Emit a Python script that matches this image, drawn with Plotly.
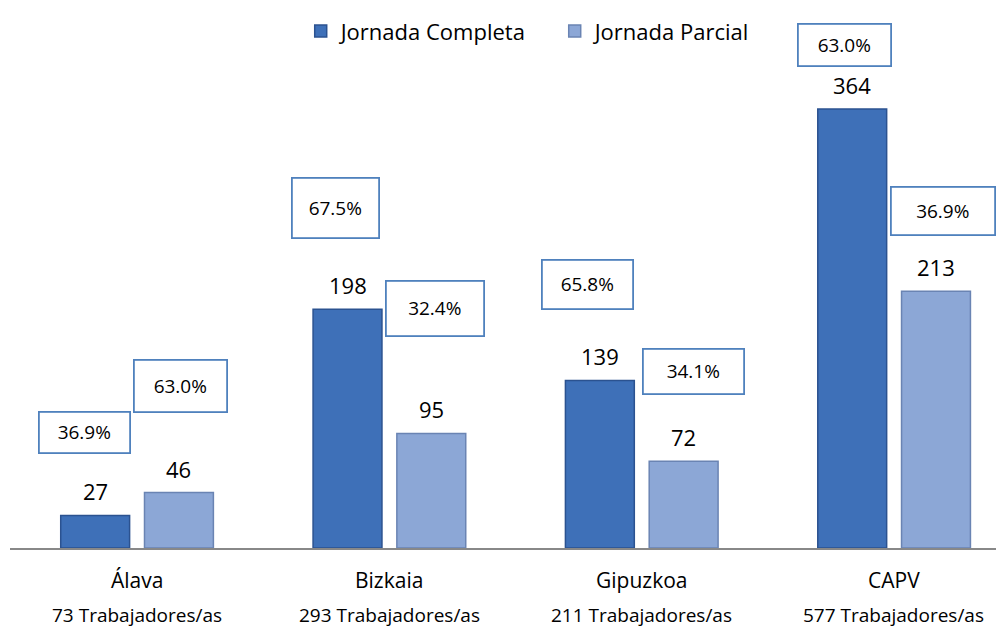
import plotly.graph_objects as go

categories = ["Álava", "Bizkaia", "Gipuzkoa", "CAPV"]
totals = [73, 293, 211, 577]
completa = [27, 198, 139, 364]
parcial = [46, 95, 72, 213]
pct_completa = ["36.9%", "67.5%", "65.8%", "63.0%"]
pct_parcial = ["63.0%", "32.4%", "34.1%", "36.9%"]

# label box placement (pixel offsets from bar top centre) and sizes
box_completa = [(-11, 83, 92, 42), (-12, 101, 88, 61), (-12, 96, 92, 50), (-8, 64, 94, 43)]
box_parcial = [(2, 107, 94, 53), (4, 125, 99, 56), (10, 90, 102, 46), (7, 80, 105, 49)]

FONT = "Open Sans"
C_FULL = "#3E70B8"
C_FULL_LINE = "#2B5290"
C_PART = "#8CA7D6"
C_PART_LINE = "#6A84B3"
BOX_LINE = "#4F81BD"

xs = list(range(len(categories)))
BW = 0.273
OFF_C = -0.302
OFF_P = 0.030

fig = go.Figure()
fig.add_trace(go.Bar(
    x=xs, y=completa, name="Jornada Completa",
    width=BW, offset=OFF_C,
    marker=dict(color=C_FULL, line=dict(color=C_FULL_LINE, width=1.5)),
    hoverinfo="skip",
))
fig.add_trace(go.Bar(
    x=xs, y=parcial, name="Jornada Parcial",
    width=BW, offset=OFF_P,
    marker=dict(color=C_PART, line=dict(color=C_PART_LINE, width=1.5)),
    hoverinfo="skip",
))

ann = []
cc = OFF_C + BW / 2
cp = OFF_P + BW / 2
for i, x in enumerate(xs):
    for val, pct, box, off in ((completa[i], pct_completa[i], box_completa[i], cc),
                               (parcial[i], pct_parcial[i], box_parcial[i], cp)):
        ann.append(dict(x=x + off, y=val, xref="x", yref="y", text=str(val),
                        showarrow=False, yanchor="middle", xanchor="center", yshift=24,
                        font=dict(family=FONT, size=22, color="#000")))
        dx, dy, w, h = box
        ann.append(dict(x=x + off, y=val, xref="x", yref="y", text=pct,
                        showarrow=False, yanchor="middle", xanchor="center",
                        xshift=dx, yshift=dy, width=w - 3, height=h - 3, borderpad=0,
                        bordercolor=BOX_LINE, borderwidth=1.8, bgcolor="white",
                        align="center", valign="middle",
                        font=dict(family=FONT, size=19, color="#000")))
    ann.append(dict(x=x, y=0, xref="x", yref="paper", text=categories[i],
                    showarrow=False, yanchor="middle", xanchor="center", yshift=-32,
                    font=dict(family=FONT, size=21, color="#000")))
    ann.append(dict(x=x, y=0, xref="x", yref="paper", text=f"{totals[i]} Trabajadores/as",
                    showarrow=False, yanchor="middle", xanchor="center", yshift=-67,
                    font=dict(family=FONT, size=19, color="#000")))

fig.update_layout(
    width=1004, height=640,
    margin=dict(l=2, r=8, t=0, b=100),
    paper_bgcolor="white", plot_bgcolor="white",
    barmode="overlay",
    showlegend=True,
    legend=dict(orientation="h", x=0.548, xanchor="center", y=0.957, yanchor="middle",
                font=dict(family=FONT, size=22, color="#000"), bgcolor="rgba(0,0,0,0)",
                entrywidth=209, entrywidthmode="pixels", itemwidth=30,
                itemclick=False),
    xaxis=dict(range=[-0.503, 3.436], showgrid=False, zeroline=False, showticklabels=False,
               showline=True, linecolor="#888888", linewidth=2, ticks=""),
    yaxis=dict(range=[0, 447.8], showgrid=False, zeroline=False, showticklabels=False,
               showline=False, ticks=""),
    annotations=ann,
)

fig.write_html("out.html")
